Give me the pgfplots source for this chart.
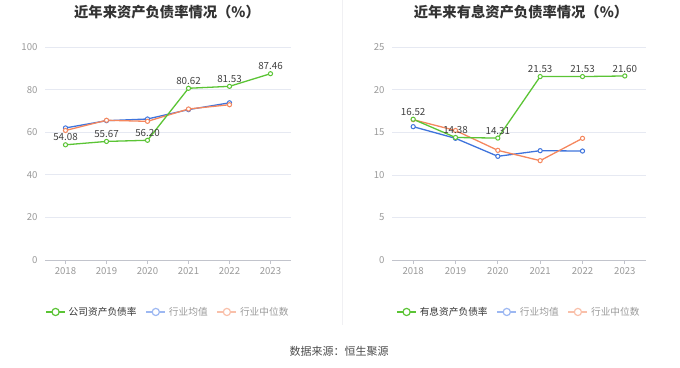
\documentclass[border=0pt]{standalone}
\usepackage{fontspec}
\setmainfont{Noto Sans CJK SC}
\usepackage{pgfplots}
\pgfplotsset{compat=1.18}
\definecolor{cgreen}{HTML}{5BC435}
\definecolor{cblue}{HTML}{3F74DC}
\definecolor{corange}{HTML}{F5875E}
\definecolor{lblue}{HTML}{9DB8F2}
\definecolor{lorange}{HTML}{F9C0AA}
\definecolor{gridc}{HTML}{E6E9F2}
\definecolor{axisc}{HTML}{C2C4CC}
\definecolor{tickc}{HTML}{999999}
\definecolor{sepc}{HTML}{F0F0F3}
\pgfplotsset{
  mychart/.style={
    anchor=south west, scale only axis, height=213pt,
    xmin=-0.5, xmax=5.5,
    xtick={0,1,2,3,4,5}, xticklabels={2018,2019,2020,2021,2022,2023},
    ymajorgrids, grid style={gridc, line width=0.6pt},
    axis x line*=bottom, axis y line*=left,
    y axis line style={draw=none}, ytick style={draw=none},
    x axis line style={draw=axisc, line width=1pt, -},
    xtick style={draw=axisc, line width=0.8pt},
    major tick length=4pt, tick align=outside,
    tick label style={font=\fontsize{9.6}{11}\selectfont, text=tickc},
    /pgf/number format/assume math mode=true,
    clip=false,
    legend style={at={(0.5,-0.244)}, anchor=center, draw=none, fill=none,
      font=\fontsize{9.7}{11}\selectfont, legend columns=3,
      /tikz/every even column/.append style={column sep=7pt},
      /tikz/every odd column/.append style={column sep=1pt}},
    legend cell align=left,
    legend image code/.code={
      \draw[##1, mark=none] (0pt,0pt) -- (19pt,0pt);
      \draw[##1] plot coordinates {(9.5pt,0pt)};
    },
  },
  ser/.style={line width=1.3pt, #1, mark=*, mark size=2.1pt, mark options={fill=white, line width=1pt}},
  lab/.style={nodes near coords, nodes near coords style={font=\fontsize{9.8}{11}\selectfont, text=black!75, /pgf/number format/fixed, /pgf/number format/precision=2, /pgf/number format/fixed zerofill, /pgf/number format/assume math mode=true}},
  leg/.style={line width=1.3pt, #1, mark=*, mark size=3.6pt, mark options={fill=white, line width=1.2pt}},
}
\begin{document}
\begin{tikzpicture}
\path[use as bounding box] (0pt,0pt) rectangle (680pt,367pt);
\draw[sepc, line width=1pt] (342pt,367pt) -- (342pt,42pt);
\node[font=\bfseries\fontsize{14.3}{16}\selectfont, text=black!80] at (167pt,355pt) {近年来资产负债率情况（\%）};
\node[font=\bfseries\fontsize{14.3}{16}\selectfont, text=black!80] at (521pt,355pt) {近年来有息资产负债率情况（\%）};
\node[font=\fontsize{11}{12}\selectfont, text=black!70] at (339pt,16pt) {数据来源：恒生聚源};

\begin{axis}[mychart, at={(45pt,107pt)}, width=246pt, ymin=0, ymax=100, ytick={0,20,40,60,80,100}]
\addplot[ser=cblue, forget plot] coordinates {(0,62.0) (1,65.4) (2,66.2) (3,70.6) (4,73.8)};
\addplot[ser=corange, forget plot] coordinates {(0,60.8) (1,65.6) (2,65.1) (3,70.9) (4,72.9)};
\addplot[ser=cgreen, lab, forget plot] coordinates {(0,54.08) (1,55.67) (2,56.20) (3,80.62) (4,81.53) (5,87.46)};
\addlegendimage{leg=cgreen}
\addlegendentry{\textcolor{black!80}{公司资产负债率}}
\addlegendimage{leg=lblue}
\addlegendentry{\textcolor{tickc}{行业均值}}
\addlegendimage{leg=lorange}
\addlegendentry{\textcolor{tickc}{行业中位数}}
\end{axis}

\begin{axis}[mychart, at={(392pt,107pt)}, width=254pt, ymin=0, ymax=25, ytick={0,5,10,15,20,25}]
\addplot[ser=cblue, forget plot] coordinates {(0,15.65) (1,14.28) (2,12.17) (3,12.83) (4,12.79)};
\addplot[ser=corange, forget plot] coordinates {(0,16.47) (1,15.2) (2,12.87) (3,11.66) (4,14.28)};
\addplot[ser=cgreen, lab, forget plot] coordinates {(0,16.52) (1,14.38) (2,14.31) (3,21.53) (4,21.53) (5,21.60)};
\addlegendimage{leg=cgreen}
\addlegendentry{\textcolor{black!80}{有息资产负债率}}
\addlegendimage{leg=lblue}
\addlegendentry{\textcolor{tickc}{行业均值}}
\addlegendimage{leg=lorange}
\addlegendentry{\textcolor{tickc}{行业中位数}}
\end{axis}
\end{tikzpicture}
\end{document}
